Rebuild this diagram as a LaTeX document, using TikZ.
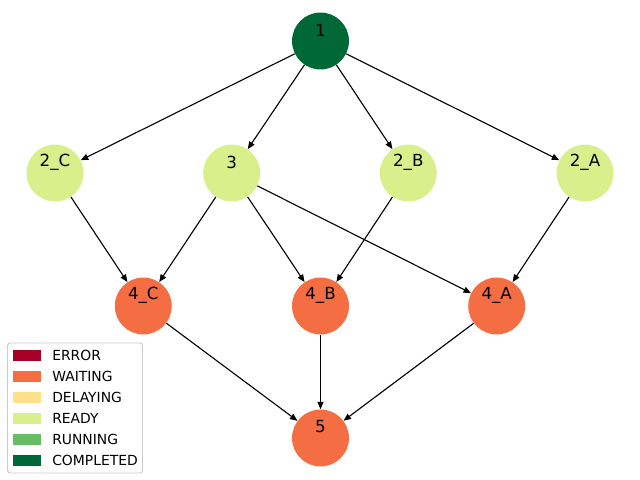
\documentclass[tikz,border=0pt]{standalone}
\usepackage{fontspec}
\setmainfont{DejaVu Sans}
\usepackage{xcolor}
\usetikzlibrary{arrows.meta,positioning}

\definecolor{stError}{HTML}{A50026}
\definecolor{stWaiting}{HTML}{F46D43}
\definecolor{stDelaying}{HTML}{FEE08B}
\definecolor{stReady}{HTML}{D9EF8B}
\definecolor{stRunning}{HTML}{66BD63}
\definecolor{stCompleted}{HTML}{006837}

\begin{document}
\begin{tikzpicture}[
  x=0.72pt, y=-0.72pt,
  task/.style={circle, draw=none, inner sep=0pt, minimum size=41pt},
  tname/.style={font=\fontsize{12}{14}\selectfont, yshift=7.9pt},
  arr/.style={-{Triangle[length=5.4pt, width=4.4pt]}, line width=0.8pt},
  patch/.style={draw=none, inner sep=0pt, minimum width=20pt, minimum height=7.6pt},
  ltext/.style={anchor=west, inner sep=0pt, font=\fontsize{10}{12}\selectfont}
]
\useasboundingbox (0,0) rectangle (640,480);

% tasks
\node[task, fill=stCompleted, label={[tname]center:1}] (n1) at (320.5,41) {};
\node[task, fill=stReady, label={[tname]center:2\_C}] (n2c) at (55,173) {};
\node[task, fill=stReady, label={[tname]center:3}] (n3) at (231.7,173) {};
\node[task, fill=stReady, label={[tname]center:2\_B}] (n2b) at (408.3,173) {};
\node[task, fill=stReady, label={[tname]center:2\_A}] (n2a) at (585,173) {};
\node[task, fill=stWaiting, label={[tname]center:4\_C}] (n4c) at (143.3,306) {};
\node[task, fill=stWaiting, label={[tname]center:4\_B}] (n4b) at (320.5,306) {};
\node[task, fill=stWaiting, label={[tname]center:4\_A}] (n4a) at (496.7,306) {};
\node[task, fill=stWaiting, label={[tname]center:5}] (n5) at (320.5,438) {};

\draw[arr] (n1) -- (n2c);
\draw[arr] (n1) -- (n3);
\draw[arr] (n1) -- (n2b);
\draw[arr] (n1) -- (n2a);
\draw[arr] (n2c) -- (n4c);
\draw[arr] (n3) -- (n4c);
\draw[arr] (n3) -- (n4b);
\draw[arr] (n3) -- (n4a);
\draw[arr] (n2b) -- (n4b);
\draw[arr] (n2a) -- (n4a);
\draw[arr] (n4c) -- (n5);
\draw[arr] (n4b) -- (n5);
\draw[arr] (n4a) -- (n5);

% legend
\draw[draw=black!20, fill=white, rounded corners=2pt, line width=0.7pt]
  (7.5,343) rectangle (142.5,473);
\node[patch, fill=stError] (pErr) at (27,355.5) {};
\node[ltext] (tErr) at (52,355.5) {ERROR};
\node[patch, fill=stWaiting] (pWait) at (27,376.5) {};
\node[ltext] (tWait) at (52,376.5) {WAITING};
\node[patch, fill=stDelaying] (pDel) at (27,397.5) {};
\node[ltext] (tDel) at (52,397.5) {DELAYING};
\node[patch, fill=stReady] (pRdy) at (27,418.5) {};
\node[ltext] (tRdy) at (52,418.5) {READY};
\node[patch, fill=stRunning] (pRun) at (27,439.5) {};
\node[ltext] (tRun) at (52,439.5) {RUNNING};
\node[patch, fill=stCompleted] (pDone) at (27,460.5) {};
\node[ltext] (tDone) at (52,460.5) {COMPLETED};
\end{tikzpicture}
\end{document}
